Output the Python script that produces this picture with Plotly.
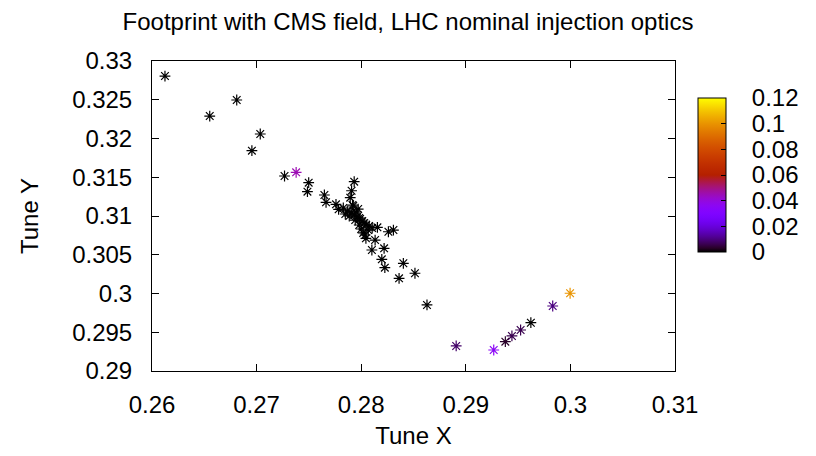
import math
import plotly.graph_objects as go

# Tune footprint data
tune_x = [0.26124, 0.26552, 0.26810, 0.27035, 0.26955, 0.27267, 0.27378, 0.27498,
          0.27486, 0.27648, 0.27664, 0.27759, 0.27784, 0.27933, 0.27908, 0.27895,
          0.27917, 0.27981, 0.28155, 0.28260, 0.28308, 0.28045, 0.28133, 0.28219,
          0.28102, 0.28197, 0.28226, 0.28403, 0.28514, 0.28362, 0.28629, 0.28908,
          0.29267, 0.29378, 0.29441, 0.29524, 0.29622, 0.29831, 0.29997,
          0.27829, 0.27867, 0.27905, 0.27933, 0.27962, 0.27990, 0.28010, 0.28029,
          0.28048, 0.28076, 0.27952, 0.27971, 0.27943, 0.27981, 0.28000, 0.28019,
          0.28038, 0.28067, 0.28105, 0.27924, 0.27886, 0.27848]
tune_y = [0.32806, 0.32290, 0.32497, 0.32058, 0.31843, 0.31516, 0.31564, 0.31430,
          0.31314, 0.31271, 0.31177, 0.31151, 0.31086, 0.31443, 0.31326, 0.31236,
          0.31142, 0.30974, 0.30854, 0.30797, 0.30819, 0.30712, 0.30690, 0.30583,
          0.30561, 0.30441, 0.30333, 0.30390, 0.30261, 0.30196, 0.29852, 0.29323,
          0.29271, 0.29378, 0.29452, 0.29529, 0.29623, 0.29839, 0.30003,
          0.31103, 0.31065, 0.31039, 0.31013, 0.30987, 0.30961, 0.30935, 0.30910,
          0.30884, 0.30871, 0.31052, 0.31090, 0.30948, 0.30884, 0.30832, 0.30781,
          0.30755, 0.30819, 0.30845, 0.31129, 0.31000, 0.31026]
amp = [0, 0, 0, 0, 0, 0, 0.045, 0,
       0, 0, 0, 0, 0, 0, 0, 0,
       0, 0, 0, 0, 0, 0, 0, 0,
       0, 0, 0, 0, 0, 0, 0, 0.008,
       0.035, 0.003, 0.006, 0.006, 0, 0.01, 0.1,
       0, 0, 0, 0, 0, 0, 0, 0,
       0, 0, 0, 0, 0, 0, 0, 0,
       0, 0, 0, 0, 0, 0]

x_ticks = [0.26, 0.27, 0.28, 0.29, 0.30, 0.31]
x_ticklabels = ["0.26", "0.27", "0.28", "0.29", "0.3", "0.31"]
y_ticks = [0.29, 0.295, 0.30, 0.305, 0.31, 0.315, 0.32, 0.325, 0.33]
y_ticklabels = ["0.29", "0.295", "0.3", "0.305", "0.31", "0.315", "0.32", "0.325", "0.33"]
cb_ticks = [0, 0.02, 0.04, 0.06, 0.08, 0.10, 0.12]
cb_ticklabels = ["0", "0.02", "0.04", "0.06", "0.08", "0.1", "0.12"]

# gnuplot default pm3d palette (rgbformulae 7,5,15)
def pal(t):
    r = math.sqrt(t)
    g = t ** 3
    b = max(0.0, math.sin(2 * math.pi * t))
    return "rgb(%d,%d,%d)" % (round(r * 255), round(g * 255), round(b * 255))

colorscale = [[i / 40, pal(i / 40)] for i in range(41)]

FONT = "Liberation Sans, Arial, Helvetica, sans-serif"
FS = 24
PAD = "\u00a0\u00a0\u00a0"

fig = go.Figure(go.Scatter(
    x=tune_x, y=tune_y, mode="markers",
    marker=dict(symbol="asterisk-open", size=9, color=amp, cmin=0, cmax=0.12,
                colorscale=colorscale, line=dict(width=1.2),
                colorbar=dict(
                    x=1.0438, xanchor="left", y=0.632, yanchor="middle",
                    len=0.497, lenmode="fraction", thickness=28, thicknessmode="pixels",
                    outlinecolor="black", outlinewidth=1, xpad=0, ypad=0,
                    tickvals=cb_ticks, ticktext=[PAD + t for t in cb_ticklabels],
                    ticks="inside", ticklen=5, tickcolor="black",
                    tickfont=dict(family=FONT, size=FS, color="black"))),
    showlegend=False))

axis_common = dict(showline=True, linecolor="black", linewidth=1, mirror="ticks",
                   ticks="inside", ticklen=7, tickcolor="black", showgrid=False,
                   zeroline=False, tickfont=dict(family=FONT, size=FS, color="black"))

fig.update_layout(
    width=816, height=456,
    margin=dict(l=152, r=139, t=61, b=85),
    paper_bgcolor="white", plot_bgcolor="white",
    title=dict(text="Footprint with CMS field, LHC nominal injection optics",
               x=0.5, xanchor="center", y=0.953, yanchor="middle",
               font=dict(family=FONT, size=FS, color="black")),
    xaxis=dict(range=[0.26, 0.31], tickvals=x_ticks, ticktext=x_ticklabels,
               ticklabelstandoff=12,
               title=dict(text="Tune X", standoff=10,
                          font=dict(family=FONT, size=FS, color="black")),
               **axis_common),
    yaxis=dict(range=[0.29, 0.33], tickvals=y_ticks, ticktext=y_ticklabels,
               ticklabelstandoff=14,
               title=dict(text="Tune Y", standoff=26,
                          font=dict(family=FONT, size=FS, color="black")),
               **axis_common),
)

fig.write_html("out.html")
